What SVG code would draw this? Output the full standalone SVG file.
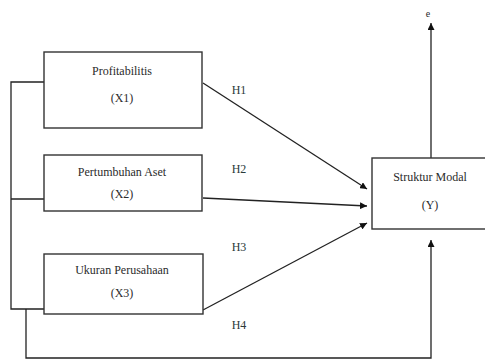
<svg xmlns="http://www.w3.org/2000/svg" width="485" height="362" viewBox="0 0 485 362">
<defs>
<style>
.box{fill:#fff;stroke:#333;stroke-width:1.4}
.ln{fill:none;stroke:#222;stroke-width:1.3}
text{font-family:'Liberation Serif','Times New Roman','DejaVu Serif',serif;font-size:12px;text-anchor:middle;dominant-baseline:central}
.t{fill:#2b2b2b}
.h{fill:#2a3a3a}
</style>
<marker id="ah" viewBox="0 0 10 10" refX="10" refY="5" markerWidth="7" markerHeight="7" markerUnits="userSpaceOnUse" orient="auto">
<path d="M0,0 L10,5 L0,10 z" fill="#111"/>
</marker>
</defs>
<rect width="485" height="362" fill="#fff"/>
<g id="connectors">
<path class="ln" d="M44,82 H11 V309 H44"/>
<path class="ln" d="M11,199 H44"/>
<path class="ln" d="M26,309 V358 H431 V240" marker-end="url(#ah)"/>
<path class="ln" d="M431,158 V23" marker-end="url(#ah)"/>
<path class="ln" d="M203,83 L367,189" marker-end="url(#ah)"/>
<path class="ln" d="M203,198 L367,206" marker-end="url(#ah)"/>
<path class="ln" d="M203,310 L367,223" marker-end="url(#ah)"/>
<text class="h" x="239" y="90">H1</text>
<text class="h" x="239" y="169">H2</text>
<text class="h" x="239" y="247">H3</text>
<text class="h" x="239" y="325">H4</text>
</g>
<g id="x1">
<rect class="box" x="44" y="52" width="158" height="76"/>
<text class="t" x="122" y="71">Profitabilitis</text>
<text class="t" x="122" y="98">(X1)</text>
</g>
<g id="x2">
<rect class="box" x="44" y="155" width="158" height="56"/>
<text class="t" x="122" y="172">Pertumbuhan Aset</text>
<text class="t" x="122" y="194">(X2)</text>
</g>
<g id="x3">
<rect class="box" x="44" y="254" width="159" height="60"/>
<text class="t" x="122" y="270">Ukuran Perusahaan</text>
<text class="t" x="122" y="293">(X3)</text>
</g>
<g id="y">
<rect class="box" x="372" y="158" width="130" height="71"/>
<text class="t" x="430" y="177">Struktur Modal</text>
<text class="t" x="430" y="205">(Y)</text>
</g>
<g id="e">
<text class="t" x="428" y="13" style="font-size:10px">e</text>
</g>
</svg>
